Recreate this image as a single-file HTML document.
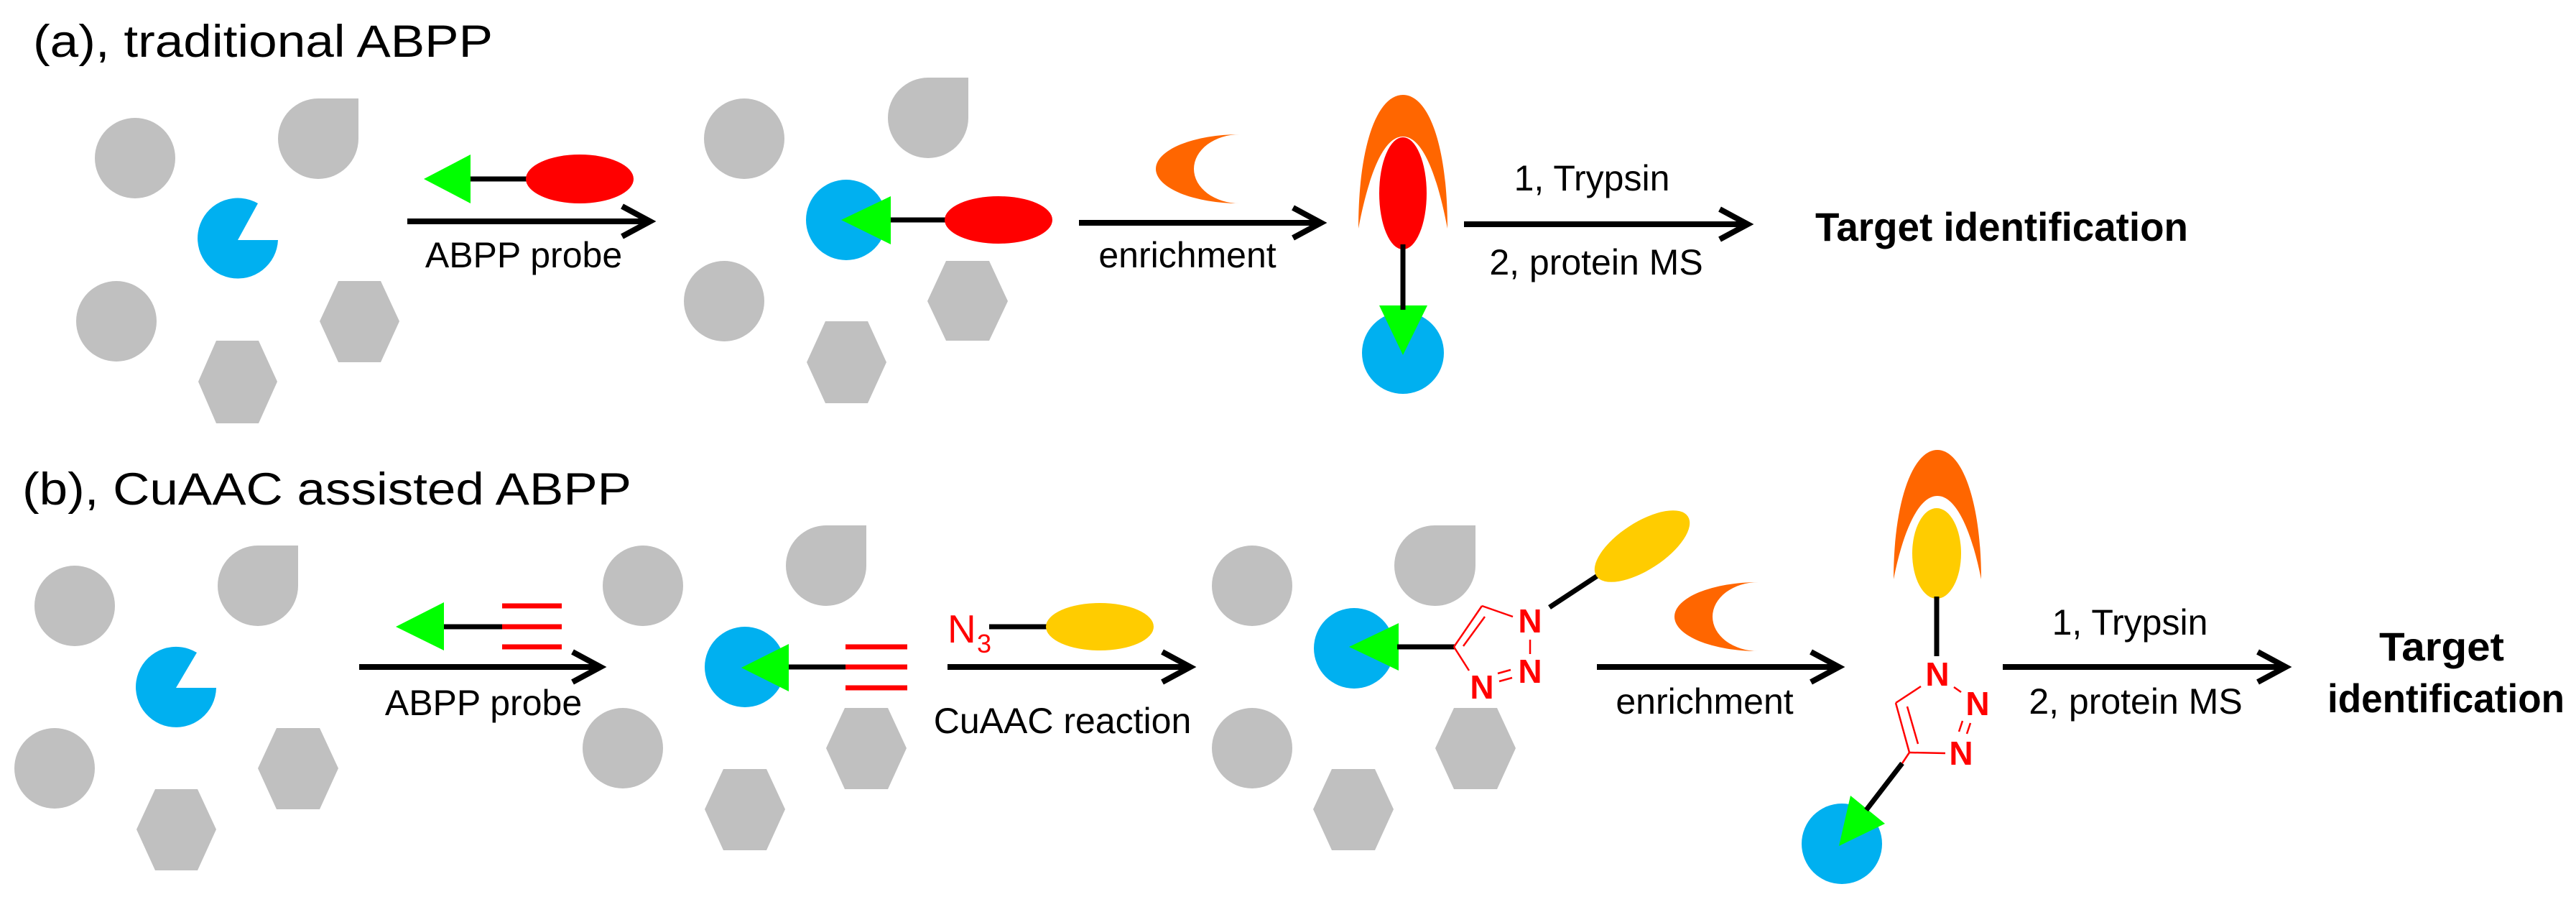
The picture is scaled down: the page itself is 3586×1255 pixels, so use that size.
<!DOCTYPE html>
<html><head><meta charset="utf-8"><style>
html,body{margin:0;padding:0;background:#fff;}
svg{display:block;}
text{font-family:"Liberation Sans",Arial,sans-serif;}
</style></head><body>
<svg width="3586" height="1255" viewBox="0 0 3586 1255" xmlns="http://www.w3.org/2000/svg">
<defs>
<g id="chev"><polyline points="-39,-21 0,0 -39,21" fill="none" stroke="#000" stroke-width="8" stroke-linejoin="miter"/></g>
</defs>

<!-- ===== Panel A ===== -->
<text x="46" y="79" font-size="63" textLength="640" lengthAdjust="spacingAndGlyphs">(a),  traditional ABPP</text>

<g fill="#c0c0c0">
<circle cx="188" cy="220" r="56"/>
<path d="M387,193 A56,56 0 0 1 443,137 L499,137 L499,193 A56,56 0 0 1 443,249 A56,56 0 0 1 387,193 Z"/>
<circle cx="162" cy="447" r="56"/>
<polygon points="471,391 530,391 556,447 530,504 471,504 445,447"/>
<polygon points="301,474 360,474 386,531 360,589 301,589 276,531"/>

<circle cx="1036" cy="193" r="56"/>
<path d="M1236,164 A56,56 0 0 1 1292,108 L1348,108 L1348,164 A56,56 0 0 1 1292,220 A56,56 0 0 1 1236,164 Z"/>
<circle cx="1008" cy="419" r="56"/>
<polygon points="1317,363 1377,363 1403,419 1377,474 1317,474 1291,419"/>
<polygon points="1149,447 1208,447 1234,504 1208,561 1149,561 1123,504"/>
</g>
<path d="M331,334 L359,283 A56,56 0 1 0 387,334 Z" fill="#00b0f0"/>

<!-- probe a -->
<polygon points="590,249 655,215 655,283" fill="#00ff00"/>
<line x1="655" y1="249" x2="740" y2="249" stroke="#000" stroke-width="7"/>
<ellipse cx="807" cy="249" rx="75" ry="34" fill="#ff0000"/>
<line x1="567" y1="308" x2="902" y2="308" stroke="#000" stroke-width="8"/>
<use href="#chev" x="905" y="308"/>
<text x="729" y="372" font-size="50" text-anchor="middle">ABPP probe</text>

<!-- labeled enzyme a -->
<circle cx="1178" cy="306" r="56" fill="#00b0f0"/>
<polygon points="1171,306 1240,273 1240,340" fill="#00ff00"/>
<line x1="1240" y1="306" x2="1320" y2="306" stroke="#000" stroke-width="7"/>
<ellipse cx="1390" cy="306" rx="75" ry="33" fill="#ff0000"/>

<!-- enrichment a -->
<path d="M1726,187 A117,48 0 0 0 1726,283 A64,48 0 0 1 1726,187 Z" fill="#ff6600"/>
<line x1="1502" y1="310" x2="1836" y2="310" stroke="#000" stroke-width="8"/>
<use href="#chev" x="1839" y="310"/>
<text x="1653" y="372" font-size="50" text-anchor="middle">enrichment</text>

<!-- product a -->
<path d="M1891,318 C1891,200 1918,132 1953,132 C1988,132 2015,200 2015,318 C2002,250 1982,190 1953,190 C1924,190 1904,250 1891,318 Z" fill="#ff6600"/>
<ellipse cx="1953" cy="269" rx="33" ry="78" fill="#ff0000"/>
<circle cx="1953" cy="491" r="57" fill="#00b0f0"/>
<polygon points="1920,425 1987,425 1953,494" fill="#00ff00"/>
<line x1="1953" y1="340" x2="1953" y2="431" stroke="#000" stroke-width="7"/>

<line x1="2038" y1="312" x2="2430" y2="312" stroke="#000" stroke-width="8"/>
<use href="#chev" x="2433" y="312"/>
<text x="2216" y="265" font-size="50" text-anchor="middle">1, Trypsin</text>
<text x="2222" y="382" font-size="50" text-anchor="middle">2, protein MS</text>
<text x="2527" y="335" font-size="56" font-weight="bold" textLength="519" lengthAdjust="spacingAndGlyphs">Target identification</text>

<!-- ===== Panel B ===== -->
<text x="31" y="702" font-size="63" textLength="848" lengthAdjust="spacingAndGlyphs">(b),  CuAAC assisted ABPP</text>

<g fill="#c0c0c0">
<circle cx="104" cy="843" r="56"/>
<path d="M303,815 A56,56 0 0 1 359,759 L415,759 L415,815 A56,56 0 0 1 359,871 A56,56 0 0 1 303,815 Z"/>
<circle cx="76" cy="1069" r="56"/>
<polygon points="385,1013 445,1013 471,1069 445,1126 385,1126 359,1069"/>
<polygon points="216,1098 275,1098 301,1154 275,1211 216,1211 190,1154"/>

<circle cx="895" cy="815" r="56"/>
<path d="M1094,787 A56,56 0 0 1 1150,731 L1206,731 L1206,787 A56,56 0 0 1 1150,843 A56,56 0 0 1 1094,787 Z"/>
<circle cx="867" cy="1041" r="56"/>
<polygon points="1176,985 1236,985 1262,1041 1236,1098 1176,1098 1150,1041"/>
<polygon points="1007,1070 1067,1070 1093,1126 1067,1183 1007,1183 981,1126"/>

<circle cx="1743" cy="815" r="56"/>
<path d="M1941,787 A56,56 0 0 1 1997,731 L2054,731 L2054,787 A56,56 0 0 1 1997,843 A56,56 0 0 1 1941,787 Z"/>
<circle cx="1743" cy="1041" r="56"/>
<polygon points="2024,985 2084,985 2110,1041 2084,1098 2024,1098 1998,1041"/>
<polygon points="1854,1070 1914,1070 1940,1126 1914,1183 1854,1183 1828,1126"/>
</g>
<path d="M245,957 L274,908 A56,56 0 1 0 301,957 Z" fill="#00b0f0"/>

<!-- probe b -->
<polygon points="551,872 618,838 618,905" fill="#00ff00"/>
<line x1="618" y1="872" x2="700" y2="872" stroke="#000" stroke-width="7"/>
<g stroke="#ff0000" stroke-width="7"><line x1="699" y1="843" x2="782" y2="843"/><line x1="699" y1="872" x2="782" y2="872"/><line x1="699" y1="900" x2="782" y2="900"/></g>
<line x1="500" y1="928" x2="833" y2="928" stroke="#000" stroke-width="8"/>
<use href="#chev" x="836" y="928"/>
<text x="673" y="995" font-size="50" text-anchor="middle">ABPP probe</text>

<!-- labeled b -->
<circle cx="1037" cy="928" r="56" fill="#00b0f0"/>
<polygon points="1032,929 1098,896 1098,962" fill="#00ff00"/>
<line x1="1098" y1="928" x2="1178" y2="928" stroke="#000" stroke-width="7"/>
<g stroke="#ff0000" stroke-width="7"><line x1="1177" y1="900" x2="1263" y2="900"/><line x1="1177" y1="928" x2="1263" y2="928"/><line x1="1177" y1="957" x2="1263" y2="957"/></g>

<!-- CuAAC -->
<text x="1319" y="894" font-size="55" fill="#ff0000">N</text>
<text x="1360" y="908" font-size="36" fill="#ff0000">3</text>
<line x1="1377" y1="872" x2="1460" y2="872" stroke="#000" stroke-width="7"/>
<ellipse cx="1531" cy="872" rx="75" ry="33" fill="#ffcc00"/>
<line x1="1319" y1="928" x2="1654" y2="928" stroke="#000" stroke-width="8"/>
<use href="#chev" x="1657" y="928"/>
<text x="1479" y="1020" font-size="50" text-anchor="middle">CuAAC reaction</text>

<!-- clicked product b -->
<circle cx="1885" cy="902" r="56" fill="#00b0f0"/>
<polygon points="1878,900 1947,867 1947,933" fill="#00ff00"/>
<line x1="1945" y1="900" x2="2025" y2="900" stroke="#000" stroke-width="7"/>
<g stroke="#ff0000" stroke-width="2.5" fill="none">
<line x1="2024" y1="900" x2="2063" y2="843"/>
<line x1="2037" y1="899" x2="2067" y2="858"/>
<line x1="2063" y1="843" x2="2106" y2="858"/>
<line x1="2130" y1="890" x2="2130" y2="910"/>
<line x1="2085" y1="937" x2="2103" y2="932"/>
<line x1="2087" y1="948" x2="2105" y2="943"/>
<line x1="2024" y1="900" x2="2045" y2="933"/>
</g>
<g fill="#ff0000" font-size="46" font-weight="bold" text-anchor="middle">
<text x="2130" y="880">N</text><text x="2130" y="950">N</text><text x="2063" y="972">N</text>
</g>
<line x1="2157" y1="845" x2="2227" y2="799" stroke="#000" stroke-width="7"/>
<ellipse cx="2286" cy="760" rx="76" ry="33" fill="#ffcc00" transform="rotate(-33 2286 760)"/>

<!-- enrichment b -->
<path d="M2448,810 A117,48 0 0 0 2448,906 A64,48 0 0 1 2448,810 Z" fill="#ff6600"/>
<line x1="2223" y1="928" x2="2557" y2="928" stroke="#000" stroke-width="8"/>
<use href="#chev" x="2560" y="928"/>
<text x="2373" y="993" font-size="50" text-anchor="middle">enrichment</text>

<!-- product b -->
<path d="M2636,806 C2636,700 2662,626 2697,626 C2732,626 2758,700 2758,806 C2746,745 2725,690 2697,690 C2669,690 2648,745 2636,806 Z" fill="#ff6600"/>
<ellipse cx="2696" cy="770" rx="34" ry="63" fill="#ffcc00"/>
<line x1="2696" y1="830" x2="2696" y2="913" stroke="#000" stroke-width="7"/>
<g stroke="#ff0000" stroke-width="2.5" fill="none">
<line x1="2674" y1="955" x2="2639" y2="978"/>
<line x1="2639" y1="978" x2="2658" y2="1047"/>
<line x1="2655" y1="983" x2="2670" y2="1035"/>
<line x1="2658" y1="1047" x2="2708" y2="1048"/>
<line x1="2720" y1="956" x2="2730" y2="963"/>
<line x1="2732" y1="1003" x2="2727" y2="1018"/>
<line x1="2743" y1="1006" x2="2738" y2="1021"/>
<line x1="2658" y1="1047" x2="2648" y2="1062"/>
</g>
<g fill="#ff0000" font-size="46" font-weight="bold" text-anchor="middle">
<text x="2697" y="954">N</text><text x="2753" y="995">N</text><text x="2730" y="1064">N</text>
</g>
<circle cx="2564" cy="1174" r="56" fill="#00b0f0"/>
<polygon points="2560,1177 2576,1107 2624,1146" fill="#00ff00"/>
<line x1="2648" y1="1062" x2="2598" y2="1127" stroke="#000" stroke-width="7"/>

<line x1="2788" y1="928" x2="3179" y2="928" stroke="#000" stroke-width="8"/>
<use href="#chev" x="3182" y="928"/>
<text x="2965" y="883" font-size="50" text-anchor="middle">1, Trypsin</text>
<text x="2973" y="993" font-size="50" text-anchor="middle">2, protein MS</text>
<text x="3399" y="919" font-size="56" font-weight="bold" text-anchor="middle" textLength="174" lengthAdjust="spacingAndGlyphs">Target</text>
<text x="3405" y="991" font-size="56" font-weight="bold" text-anchor="middle" textLength="330" lengthAdjust="spacingAndGlyphs">identification</text>
</svg>
</body></html>
